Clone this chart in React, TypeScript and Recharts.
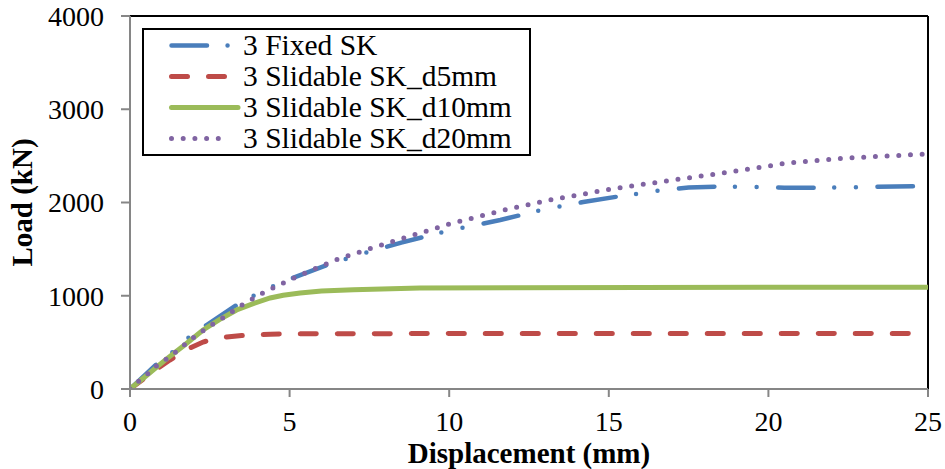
import React from 'react';
import { LineChart, Line, XAxis, YAxis, Legend, ReferenceLine, Label } from 'recharts';

const xTicks = [0, 5, 10, 15, 20, 25];
const yTicks = [0, 1000, 2000, 3000, 4000];

const fixedDisp = [0, 0.78, 1.35, 1.82, 2.4, 3.34, 4.2, 5.1, 6.17, 7.46, 8.5, 10, 11.6, 12.9, 14.2, 15.4, 16.7, 17.5, 18.5, 19.5, 20.5, 21.7, 23, 25];
const fixedLoad = [0, 250, 400, 547, 686, 900, 1060, 1190, 1330, 1470, 1570, 1700, 1812, 1920, 2005, 2070, 2134, 2160, 2172, 2168, 2158, 2158, 2166, 2178];

const d5Disp = [0, 0.8, 1.25, 1.88, 2.29, 2.7, 3.03, 3.5, 4.39, 5.5, 10, 15, 20, 25];
const d5Load = [0, 205, 311, 440, 504, 540, 558, 573, 588, 592, 595, 595, 595, 596];

const d10Disp = [0, 0.5, 1.1, 1.7, 2.29, 2.8, 3.34, 3.9, 4.39, 4.8, 5.33, 6, 7, 9.08, 12, 16, 20, 25];
const d10Load = [0, 140, 310, 470, 633, 745, 847, 920, 976, 1005, 1030, 1050, 1065, 1083, 1085, 1088, 1090, 1092];

const d20Disp = [0, 0.21, 0.52, 0.78, 1.1, 1.41, 1.66, 1.97, 2.29, 2.6, 2.9, 3.2, 3.5, 4.17, 4.8, 5.48, 6.52, 7.2, 8.5, 10, 11.85, 13.3, 15.1, 17, 18.8, 20.6, 22.45, 24.3, 25];
const d20Load = [0, 68, 150, 236, 311, 390, 461, 547, 625, 697, 761, 829, 900, 1030, 1137, 1244, 1394, 1470, 1610, 1770, 1930, 2037, 2145, 2241, 2327, 2424, 2477, 2509, 2520];

const seriesNames = ['3 Fixed SK', '3 Slidable SK_d5mm', '3 Slidable SK_d10mm', '3 Slidable SK_d20mm'];

const toPoints = (xs: number[], ys: number[]) => xs.map((x, i) => ({ x, y: ys[i] }));

const series = [
  { name: seriesNames[0], data: toPoints(fixedDisp, fixedLoad), color: '#4A7EBB', dash: '35.5 20.55 0 21.7 0 21.55', width: 4.5 },
  { name: seriesNames[1], data: toPoints(d5Disp, d5Load), color: '#BE4B48', dash: '16 21', width: 5 },
  { name: seriesNames[2], data: toPoints(d10Disp, d10Load), color: '#9BBB59', dash: undefined as string | undefined, width: 5 },
  { name: seriesNames[3], data: toPoints(d20Disp, d20Load), color: '#8064A2', dash: '0 11.7', width: 5 },
];

const FONT = '"Liberation Serif", "Times New Roman", serif';

const LegendBox = () => (
  <div
    style={{
      border: '2px solid #000',
      background: '#fff',
      width: 389,
      boxSizing: 'border-box',
      fontFamily: FONT,
      fontSize: 29.5,
      color: '#000',
    }}
  >
    {series.map((s) => (
      <div key={s.name} style={{ height: 31, display: 'flex', alignItems: 'center' }}>
        <svg width={99} height={31} style={{ flex: 'none' }}>
          <line
            x1={27.5}
            x2={s.dash ? 84 : 94}
            y1={15.5}
            y2={15.5}
            stroke={s.color}
            strokeWidth={s.width}
            strokeDasharray={s.dash}
            strokeLinecap="round"
          />
        </svg>
        <span style={{ lineHeight: '31px', whiteSpace: 'nowrap' }}>{s.name}</span>
      </div>
    ))}
  </div>
);

export default function App() {
  return (
    <div style={{ position: 'absolute', left: 0, top: 0, background: '#fff' }}>
      <LineChart width={945} height={469} margin={{ top: 16, right: 17, left: 0, bottom: 0 }}>
        <XAxis
          type="number"
          dataKey="x"
          domain={[0, 25]}
          ticks={xTicks}
          allowDataOverflow
          height={80}
          stroke="#868686"
          strokeWidth={2}
          tickSize={8}
          tickMargin={14}
          tick={{ fill: '#000', fontSize: 28, fontFamily: FONT }}
        >
          <Label
            value="Displacement (mm)"
            position="insideBottom"
            offset={6}
            style={{ fontFamily: FONT, fontSize: 29, fontWeight: 'bold', fill: '#000' }}
          />
        </XAxis>
        <YAxis
          type="number"
          dataKey="y"
          domain={[0, 4000]}
          ticks={yTicks}
          allowDataOverflow
          width={130}
          stroke="#868686"
          strokeWidth={2}
          tickSize={9}
          tickMargin={17}
          tick={{ fill: '#000', fontSize: 28, fontFamily: FONT }}
        >
          <Label
            value="Load (kN)"
            angle={-90}
            position="insideLeft"
            offset={22}
            style={{ fontFamily: FONT, fontSize: 29, fontWeight: 'bold', fill: '#000', textAnchor: 'middle' }}
          />
        </YAxis>
        <ReferenceLine y={4000} stroke="#000" strokeWidth={2} />
        <ReferenceLine x={25} stroke="#000" strokeWidth={2} />
        {series.map((s) => (
          <Line
            key={s.name}
            data={s.data}
            dataKey="y"
            name={s.name}
            type="linear"
            stroke={s.color}
            strokeWidth={s.width}
            strokeDasharray={s.dash}
            strokeLinecap="round"
            dot={false}
            activeDot={false}
            isAnimationActive={false}
          />
        ))}
        <Legend
          layout="vertical"
          align="center"
          verticalAlign="middle"
          content={() => <LegendBox />}
          wrapperStyle={{ left: 142, top: 28, width: 'auto', height: 'auto' }}
        />
      </LineChart>
    </div>
  );
}
